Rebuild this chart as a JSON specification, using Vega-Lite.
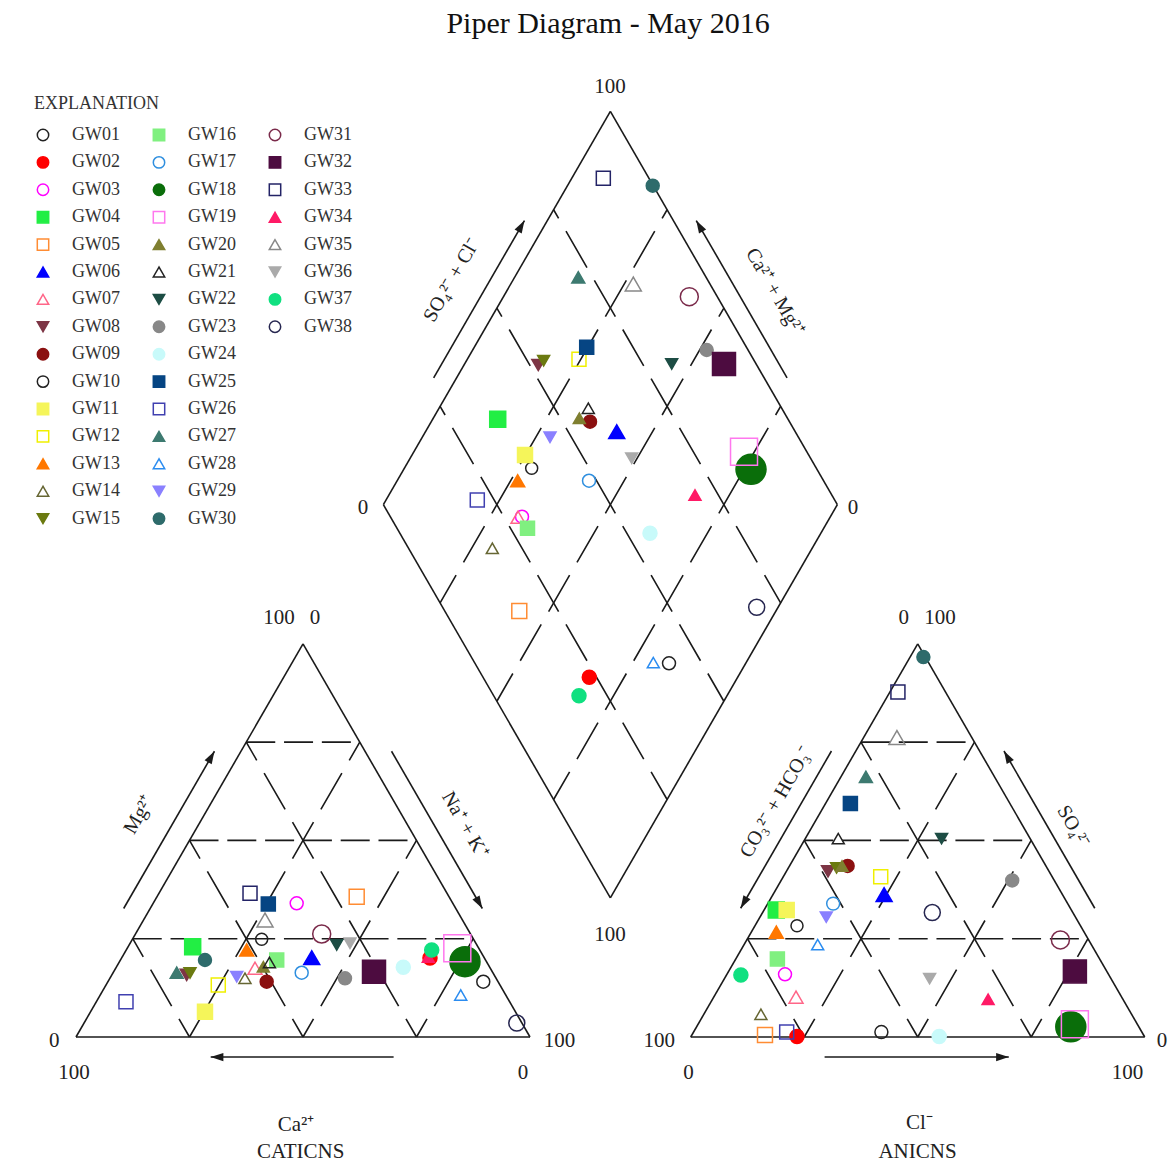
{
  "$schema": "https://vega.github.io/schema/vega-lite/v6.json",
  "width": 1170,
  "height": 1123,
  "autosize": {"type": "none"},
  "padding": {"top": 45, "left": 0, "right": 0, "bottom": 0},
  "background": "white",
  "title": {"text": "Piper Diagram - May 2016", "font": "Liberation Serif", "fontSize": 30, "fontWeight": "normal", "color": "#111111", "anchor": "middle", "dx": 23, "offset": -18, "baseline": "alphabetic"},
  "config": {
    "view": {"stroke": null},
    "legend": {"titleFont": "Liberation Serif", "titleFontSize": 18, "titleFontWeight": "normal", "titleColor": "#333333", "labelFont": "Liberation Serif", "labelFontSize": 18, "labelColor": "#333333", "padding": 0, "offset": 0}
  },
  "datasets": {
    "solid": [
      {"x": 0, "y": 0, "x2": 100, "y2": 0},
      {"x": 100, "y": 0, "x2": 50, "y2": 86.603},
      {"x": 50, "y": 86.603, "x2": 0, "y2": 0},
      {"x": 135.4, "y": 0, "x2": 235.4, "y2": 0},
      {"x": 235.4, "y": 0, "x2": 185.4, "y2": 86.603},
      {"x": 185.4, "y": 86.603, "x2": 135.4, "y2": 0},
      {"x": 117.7, "y": 30.657, "x2": 167.7, "y2": 117.26},
      {"x": 167.7, "y": 117.26, "x2": 117.7, "y2": 203.863},
      {"x": 117.7, "y": 203.863, "x2": 67.7, "y2": 117.26},
      {"x": 67.7, "y": 117.26, "x2": 117.7, "y2": 30.657},
      {"x": 10.5, "y": 28.3, "x2": 30.5, "y2": 62.94},
      {"x": 69.5, "y": 62.94, "x2": 89.5, "y2": 28.3},
      {"x": 69.96, "y": -4.41, "x2": 29.67, "y2": -4.41},
      {"x": 166.4, "y": 63.0, "x2": 146.4, "y2": 28.36},
      {"x": 224.4, "y": 28.36, "x2": 204.4, "y2": 63.0},
      {"x": 164.89, "y": -4.41, "x2": 205.46, "y2": -4.41},
      {"x": 78.78, "y": 145.2, "x2": 98.78, "y2": 179.84},
      {"x": 156.62, "y": 145.2, "x2": 136.62, "y2": 179.84}
    ],
    "hdash": [
      {"x": 12.5, "y": 21.651, "x2": 87.5, "y2": 21.651},
      {"x": 25, "y": 43.301, "x2": 75, "y2": 43.301},
      {"x": 37.5, "y": 64.952, "x2": 62.5, "y2": 64.952},
      {"x": 147.9, "y": 21.651, "x2": 222.9, "y2": 21.651},
      {"x": 160.4, "y": 43.301, "x2": 210.4, "y2": 43.301},
      {"x": 172.9, "y": 64.952, "x2": 197.9, "y2": 64.952}
    ],
    "tdash": [
      {"x": 12.5, "y": 21.651, "x2": 25, "y2": 0},
      {"x": 25, "y": 43.301, "x2": 50, "y2": 0},
      {"x": 37.5, "y": 64.952, "x2": 75, "y2": 0},
      {"x": 87.5, "y": 21.651, "x2": 75, "y2": 0},
      {"x": 75, "y": 43.301, "x2": 50, "y2": 0},
      {"x": 62.5, "y": 64.952, "x2": 25, "y2": 0},
      {"x": 147.9, "y": 21.651, "x2": 160.4, "y2": 0},
      {"x": 160.4, "y": 43.301, "x2": 185.4, "y2": 0},
      {"x": 172.9, "y": 64.952, "x2": 210.4, "y2": 0},
      {"x": 222.9, "y": 21.651, "x2": 210.4, "y2": 0},
      {"x": 210.4, "y": 43.301, "x2": 185.4, "y2": 0},
      {"x": 197.9, "y": 64.952, "x2": 160.4, "y2": 0}
    ],
    "ddash": [
      {"x": 155.2, "y": 138.911, "x2": 105.2, "y2": 52.308},
      {"x": 142.7, "y": 160.562, "x2": 92.7, "y2": 73.958},
      {"x": 130.2, "y": 182.212, "x2": 80.2, "y2": 95.609},
      {"x": 80.2, "y": 138.911, "x2": 130.2, "y2": 52.308},
      {"x": 92.7, "y": 160.562, "x2": 142.7, "y2": 73.958},
      {"x": 105.2, "y": 182.212, "x2": 155.2, "y2": 95.609}
    ],
    "heads": [
      {"dir": "ur", "x": 30.5, "y": 62.94},
      {"dir": "ur", "x": 98.78, "y": 179.84},
      {"dir": "dr", "x": 89.5, "y": 28.3},
      {"dir": "l", "x": 29.67, "y": -4.41},
      {"dir": "dl", "x": 146.4, "y": 28.36},
      {"dir": "ul", "x": 204.4, "y": 63.0},
      {"dir": "ul", "x": 136.62, "y": 179.84},
      {"dir": "r", "x": 205.46, "y": -4.41}
    ],
    "labH": [
      {"t": "100", "x": 117.62, "y": 209.36},
      {"t": "0", "x": 63.22, "y": 116.52},
      {"t": "0", "x": 171.15, "y": 116.52},
      {"t": "100", "x": 117.62, "y": 22.47},
      {"t": "100", "x": 44.71, "y": 92.29},
      {"t": "0", "x": 52.64, "y": 92.29},
      {"t": "0", "x": -4.78, "y": -0.88},
      {"t": "100", "x": -0.46, "y": -7.93},
      {"t": "100", "x": 106.52, "y": -0.88},
      {"t": "0", "x": 98.44, "y": -7.93},
      {"t": "0", "x": 182.33, "y": 92.31},
      {"t": "100", "x": 190.29, "y": 92.31},
      {"t": "100", "x": 128.48, "y": -0.88},
      {"t": "0", "x": 134.91, "y": -7.93},
      {"t": "0", "x": 239.21, "y": -0.88},
      {"t": "100", "x": 231.63, "y": -7.93},
      {"t": "Ca²⁺", "x": 48.46, "y": -19.38},
      {"t": "CATICNS", "x": 49.49, "y": -25.29},
      {"t": "Cl⁻", "x": 185.75, "y": -18.94},
      {"t": "ANICNS", "x": 185.35, "y": -25.29}
    ],
    "labU": [
      {"t": "Mg²⁺", "x": 13.9, "y": 49.0},
      {"t": "SO₄²⁻ + Cl⁻", "x": 82.75, "y": 166.74},
      {"t": "CO₃²⁻ + HCO₃⁻", "x": 154.25, "y": 51.81}
    ],
    "labD": [
      {"t": "Na⁺ + K⁺", "x": 85.68, "y": 46.7},
      {"t": "Ca²⁺ + Mg²⁺", "x": 153.96, "y": 164.1},
      {"t": "SO₄²⁻", "x": 219.69, "y": 46.3}
    ],
    "samples": [
      {"s": "GW01", "tds": 420, "cx": 89.71, "cy": 12.18, "ax": 177.4, "ay": 1.08, "dx": 130.62, "dy": 82.31},
      {"s": "GW02", "tds": 490, "cx": 77.97, "cy": 17.4, "ax": 158.81, "ay": 0.13, "dx": 113.06, "dy": 79.23},
      {"s": "GW03", "tds": 420, "cx": 48.61, "cy": 29.45, "ax": 156.17, "ay": 13.81, "dx": 98.24, "dy": 114.6},
      {"s": "GW04", "tds": 640, "cx": 25.7, "cy": 19.89, "ax": 154.25, "ay": 27.97, "dx": 92.89, "dy": 136.06},
      {"s": "GW05", "tds": 560, "cx": 61.83, "cy": 30.9, "ax": 151.76, "ay": 0.44, "dx": 97.64, "dy": 93.83},
      {"s": "GW06", "tds": 640, "cx": 51.92, "cy": 17.47, "ax": 178.0, "ay": 31.37, "dx": 119.1, "dy": 133.33},
      {"s": "GW07", "tds": 490, "cx": 39.43, "cy": 15.13, "ax": 158.59, "ay": 8.79, "dx": 97.36, "dy": 114.47},
      {"s": "GW08", "tds": 420, "cx": 24.38, "cy": 13.66, "ax": 165.64, "ay": 36.48, "dx": 101.83, "dy": 148.02},
      {"s": "GW09", "tds": 420, "cx": 42.0, "cy": 12.18, "ax": 169.96, "ay": 37.67, "dx": 113.22, "dy": 135.53},
      {"s": "GW10", "tds": 360, "cx": 40.9, "cy": 21.52, "ax": 158.81, "ay": 24.52, "dx": 100.37, "dy": 125.26},
      {"s": "GW11", "tds": 560, "cx": 28.41, "cy": 5.57, "ax": 156.54, "ay": 27.97, "dx": 98.9, "dy": 128.19},
      {"s": "GW12", "tds": 490, "cx": 31.34, "cy": 11.45, "ax": 177.25, "ay": 35.29, "dx": 110.79, "dy": 149.27},
      {"s": "GW13", "tds": 490, "cx": 37.6, "cy": 19.16, "ax": 154.25, "ay": 23.11, "dx": 97.29, "dy": 122.53},
      {"s": "GW14", "tds": 360, "cx": 37.22, "cy": 12.93, "ax": 150.86, "ay": 5.0, "dx": 91.7, "dy": 107.64},
      {"s": "GW15", "tds": 360, "cx": 25.11, "cy": 14.1, "ax": 167.53, "ay": 37.25, "dx": 103.0, "dy": 148.96},
      {"s": "GW16", "tds": 490, "cx": 44.21, "cy": 16.96, "ax": 154.49, "ay": 17.2, "dx": 99.45, "dy": 112.05},
      {"s": "GW17", "tds": 420, "cx": 49.71, "cy": 14.16, "ax": 166.78, "ay": 29.38, "dx": 113.0, "dy": 122.53},
      {"s": "GW18", "tds": 2250, "cx": 85.68, "cy": 16.59, "ax": 219.12, "ay": 2.25, "dx": 148.68, "dy": 125.04},
      {"s": "GW19", "tds": 1820, "cx": 83.99, "cy": 19.54, "ax": 220.02, "ay": 2.8, "dx": 147.14, "dy": 128.92},
      {"s": "GW20", "tds": 360, "cx": 41.26, "cy": 15.48, "ax": 168.72, "ay": 37.67, "dx": 110.86, "dy": 136.28},
      {"s": "GW21", "tds": 360, "cx": 42.6, "cy": 16.4, "ax": 167.9, "ay": 43.7, "dx": 112.84, "dy": 138.48},
      {"s": "GW22", "tds": 360, "cx": 57.42, "cy": 20.26, "ax": 190.66, "ay": 43.7, "dx": 131.21, "dy": 148.24},
      {"s": "GW23", "tds": 420, "cx": 59.25, "cy": 12.93, "ax": 206.21, "ay": 34.49, "dx": 138.92, "dy": 151.32},
      {"s": "GW24", "tds": 490, "cx": 72.09, "cy": 15.35, "ax": 190.13, "ay": 0.13, "dx": 126.43, "dy": 110.95},
      {"s": "GW25", "tds": 490, "cx": 42.36, "cy": 29.3, "ax": 170.57, "ay": 51.41, "dx": 112.49, "dy": 151.92},
      {"s": "GW26", "tds": 490, "cx": 11.01, "cy": 7.78, "ax": 156.54, "ay": 1.08, "dx": 88.39, "dy": 118.28},
      {"s": "GW27", "tds": 420, "cx": 22.18, "cy": 14.16, "ax": 173.99, "ay": 57.31, "dx": 110.64, "dy": 167.33},
      {"s": "GW28", "tds": 360, "cx": 84.74, "cy": 9.25, "ax": 163.37, "ay": 20.35, "dx": 127.16, "dy": 82.45},
      {"s": "GW29", "tds": 360, "cx": 35.4, "cy": 13.28, "ax": 165.26, "ay": 26.41, "dx": 104.41, "dy": 132.09},
      {"s": "GW30", "tds": 420, "cx": 28.41, "cy": 16.96, "ax": 186.65, "ay": 83.68, "dx": 127.03, "dy": 187.51},
      {"s": "GW31", "tds": 810, "cx": 54.12, "cy": 22.69, "ax": 216.83, "ay": 21.37, "dx": 135.09, "dy": 163.06},
      {"s": "GW32", "tds": 1320, "cx": 65.64, "cy": 14.38, "ax": 220.02, "ay": 14.45, "dx": 142.73, "dy": 148.24},
      {"s": "GW33", "tds": 490, "cx": 38.33, "cy": 31.65, "ax": 181.04, "ay": 75.97, "dx": 116.15, "dy": 189.14},
      {"s": "GW34", "tds": 360, "cx": 77.6, "cy": 17.62, "ax": 200.9, "ay": 8.3, "dx": 136.34, "dy": 119.38},
      {"s": "GW35", "tds": 640, "cx": 41.63, "cy": 25.77, "ax": 180.82, "ay": 65.97, "dx": 122.75, "dy": 165.86},
      {"s": "GW36", "tds": 360, "cx": 60.35, "cy": 20.64, "ax": 188.02, "ay": 12.86, "dx": 122.4, "dy": 127.47},
      {"s": "GW37", "tds": 490, "cx": 78.35, "cy": 19.16, "ax": 146.45, "ay": 13.66, "dx": 110.79, "dy": 75.18},
      {"s": "GW38", "tds": 640, "cx": 97.09, "cy": 3.08, "ax": 188.61, "ay": 27.42, "dx": 149.93, "dy": 94.65}
    ]
  },
  "layer": [
    {
      "data": {"name": "solid"},
      "mark": {"type": "rule", "color": "#1a1a1a", "strokeWidth": 1.6},
      "encoding": {
        "x": {"field": "x", "type": "quantitative", "scale": {"domain": [-16.74, 240.969], "nice": false, "zero": false}, "axis": null},
        "y": {"field": "y", "type": "quantitative", "scale": {"domain": [-28.855, 218.502], "nice": false, "zero": false}, "axis": null},
        "x2": {"field": "x2"},
        "y2": {"field": "y2"}
      }
    },
    {
      "data": {"name": "hdash"},
      "mark": {"type": "rule", "color": "#1a1a1a", "strokeWidth": 1.6, "strokeDash": [29, 8.8]},
      "encoding": {
        "x": {"field": "x", "type": "quantitative", "scale": {"domain": [-16.74, 240.969], "nice": false, "zero": false}, "axis": null},
        "y": {"field": "y", "type": "quantitative", "scale": {"domain": [-28.855, 218.502], "nice": false, "zero": false}, "axis": null},
        "x2": {"field": "x2"},
        "y2": {"field": "y2"}
      }
    },
    {
      "data": {"name": "tdash"},
      "mark": {"type": "rule", "color": "#1a1a1a", "strokeWidth": 1.6, "strokeDash": [42, 14.75], "strokeDashOffset": 21},
      "encoding": {
        "x": {"field": "x", "type": "quantitative", "scale": {"domain": [-16.74, 240.969], "nice": false, "zero": false}, "axis": null},
        "y": {"field": "y", "type": "quantitative", "scale": {"domain": [-28.855, 218.502], "nice": false, "zero": false}, "axis": null},
        "x2": {"field": "x2"},
        "y2": {"field": "y2"}
      }
    },
    {
      "data": {"name": "ddash"},
      "mark": {"type": "rule", "color": "#1a1a1a", "strokeWidth": 1.6, "strokeDash": [42, 14.75], "strokeDashOffset": 32},
      "encoding": {
        "x": {"field": "x", "type": "quantitative", "scale": {"domain": [-16.74, 240.969], "nice": false, "zero": false}, "axis": null},
        "y": {"field": "y", "type": "quantitative", "scale": {"domain": [-28.855, 218.502], "nice": false, "zero": false}, "axis": null},
        "x2": {"field": "x2"},
        "y2": {"field": "y2"}
      }
    },
    {
      "data": {"name": "heads"},
      "transform": [{"filter": "datum.dir === 'ur'"}],
      "mark": {"type": "point", "shape": "M0,0L0.65,2L-0.65,2Z", "angle": 30, "filled": true, "color": "#1a1a1a", "size": 160, "opacity": 1, "strokeWidth": 0},
      "encoding": {
        "x": {"field": "x", "type": "quantitative", "scale": {"domain": [-16.74, 240.969], "nice": false, "zero": false}, "axis": null},
        "y": {"field": "y", "type": "quantitative", "scale": {"domain": [-28.855, 218.502], "nice": false, "zero": false}, "axis": null}
      }
    },
    {
      "data": {"name": "heads"},
      "transform": [{"filter": "datum.dir === 'dr'"}],
      "mark": {"type": "point", "shape": "M0,0L0.65,2L-0.65,2Z", "angle": 150, "filled": true, "color": "#1a1a1a", "size": 160, "opacity": 1, "strokeWidth": 0},
      "encoding": {
        "x": {"field": "x", "type": "quantitative", "scale": {"domain": [-16.74, 240.969], "nice": false, "zero": false}, "axis": null},
        "y": {"field": "y", "type": "quantitative", "scale": {"domain": [-28.855, 218.502], "nice": false, "zero": false}, "axis": null}
      }
    },
    {
      "data": {"name": "heads"},
      "transform": [{"filter": "datum.dir === 'l'"}],
      "mark": {"type": "point", "shape": "M0,0L0.65,2L-0.65,2Z", "angle": 270, "filled": true, "color": "#1a1a1a", "size": 160, "opacity": 1, "strokeWidth": 0},
      "encoding": {
        "x": {"field": "x", "type": "quantitative", "scale": {"domain": [-16.74, 240.969], "nice": false, "zero": false}, "axis": null},
        "y": {"field": "y", "type": "quantitative", "scale": {"domain": [-28.855, 218.502], "nice": false, "zero": false}, "axis": null}
      }
    },
    {
      "data": {"name": "heads"},
      "transform": [{"filter": "datum.dir === 'dl'"}],
      "mark": {"type": "point", "shape": "M0,0L0.65,2L-0.65,2Z", "angle": 210, "filled": true, "color": "#1a1a1a", "size": 160, "opacity": 1, "strokeWidth": 0},
      "encoding": {
        "x": {"field": "x", "type": "quantitative", "scale": {"domain": [-16.74, 240.969], "nice": false, "zero": false}, "axis": null},
        "y": {"field": "y", "type": "quantitative", "scale": {"domain": [-28.855, 218.502], "nice": false, "zero": false}, "axis": null}
      }
    },
    {
      "data": {"name": "heads"},
      "transform": [{"filter": "datum.dir === 'ul'"}],
      "mark": {"type": "point", "shape": "M0,0L0.65,2L-0.65,2Z", "angle": 330, "filled": true, "color": "#1a1a1a", "size": 160, "opacity": 1, "strokeWidth": 0},
      "encoding": {
        "x": {"field": "x", "type": "quantitative", "scale": {"domain": [-16.74, 240.969], "nice": false, "zero": false}, "axis": null},
        "y": {"field": "y", "type": "quantitative", "scale": {"domain": [-28.855, 218.502], "nice": false, "zero": false}, "axis": null}
      }
    },
    {
      "data": {"name": "heads"},
      "transform": [{"filter": "datum.dir === 'r'"}],
      "mark": {"type": "point", "shape": "M0,0L0.65,2L-0.65,2Z", "angle": 90, "filled": true, "color": "#1a1a1a", "size": 160, "opacity": 1, "strokeWidth": 0},
      "encoding": {
        "x": {"field": "x", "type": "quantitative", "scale": {"domain": [-16.74, 240.969], "nice": false, "zero": false}, "axis": null},
        "y": {"field": "y", "type": "quantitative", "scale": {"domain": [-28.855, 218.502], "nice": false, "zero": false}, "axis": null}
      }
    },
    {
      "data": {"name": "labH"},
      "mark": {"type": "text", "font": "Liberation Serif", "fontSize": 21, "color": "#222222", "align": "center", "baseline": "middle"},
      "encoding": {
        "x": {"field": "x", "type": "quantitative", "scale": {"domain": [-16.74, 240.969], "nice": false, "zero": false}, "axis": null},
        "y": {"field": "y", "type": "quantitative", "scale": {"domain": [-28.855, 218.502], "nice": false, "zero": false}, "axis": null},
        "text": {"field": "t", "type": "nominal"}
      }
    },
    {
      "data": {"name": "labU"},
      "mark": {"type": "text", "font": "Liberation Serif", "fontSize": 20, "color": "#222222", "align": "center", "baseline": "middle", "angle": -60},
      "encoding": {
        "x": {"field": "x", "type": "quantitative", "scale": {"domain": [-16.74, 240.969], "nice": false, "zero": false}, "axis": null},
        "y": {"field": "y", "type": "quantitative", "scale": {"domain": [-28.855, 218.502], "nice": false, "zero": false}, "axis": null},
        "text": {"field": "t", "type": "nominal"}
      }
    },
    {
      "data": {"name": "labD"},
      "mark": {"type": "text", "font": "Liberation Serif", "fontSize": 20, "color": "#222222", "align": "center", "baseline": "middle", "angle": 60},
      "encoding": {
        "x": {"field": "x", "type": "quantitative", "scale": {"domain": [-16.74, 240.969], "nice": false, "zero": false}, "axis": null},
        "y": {"field": "y", "type": "quantitative", "scale": {"domain": [-28.855, 218.502], "nice": false, "zero": false}, "axis": null},
        "text": {"field": "t", "type": "nominal"}
      }
    },
    {
      "data": {"name": "samples"},
      "encoding": {
        "fill": {
          "field": "s", "type": "nominal", "title": "EXPLANATION",
          "scale": {
            "domain": ["GW01","GW02","GW03","GW04","GW05","GW06","GW07","GW08","GW09","GW10","GW11","GW12","GW13","GW14","GW15","GW16","GW17","GW18","GW19","GW20","GW21","GW22","GW23","GW24","GW25","GW26","GW27","GW28","GW29","GW30","GW31","GW32","GW33","GW34","GW35","GW36","GW37","GW38","b1","b2","b3","b4","b5","b6","b7"],
            "range": ["transparent","#ff0000","transparent","#22ee44","transparent","#0000ff","transparent","#7d3545","#8b1010","transparent","#f5f55a","transparent","#ff7700","transparent","#6b7a10","#80f080","transparent","#0a6e0a","transparent","#7f7f30","transparent","#1d4d44","#888888","#c8fafa","#064583","transparent","#3d7a70","transparent","#8a80ff","#2e6b6b","transparent","#4d0c40","transparent","#ff1a66","transparent","#aaaaaa","#10e080","transparent","transparent","transparent","transparent","transparent","transparent","transparent","transparent"]
          },
          "legend": {"orient": "none", "legendX": 34, "legendY": 50, "columns": 3, "columnPadding": 30, "rowPadding": 9.4, "labelOffset": 20, "symbolSize": 130, "symbolStrokeWidth": 1.5, "titlePadding": 13, "symbolLimit": 60, "gridAlign": "all", "labelExpr": "indexof(datum.label, 'b') === 0 ? '' : datum.label"}
        },
        "stroke": {
          "field": "s", "type": "nominal", "title": "EXPLANATION",
          "scale": {
            "domain": ["GW01","GW02","GW03","GW04","GW05","GW06","GW07","GW08","GW09","GW10","GW11","GW12","GW13","GW14","GW15","GW16","GW17","GW18","GW19","GW20","GW21","GW22","GW23","GW24","GW25","GW26","GW27","GW28","GW29","GW30","GW31","GW32","GW33","GW34","GW35","GW36","GW37","GW38","b1","b2","b3","b4","b5","b6","b7"],
            "range": ["#222222","#ff0000","#ff00ff","#22ee44","#ff8c33","#0000ff","#ff6688","#7d3545","#8b1010","#222222","#f5f55a","#f0f000","#ff7700","#666633","#6b7a10","#80f080","#2f8fdf","#0a6e0a","#ff77ee","#7f7f30","#222222","#1d4d44","#888888","#c8fafa","#064583","#4040b0","#3d7a70","#2b8cf0","#8a80ff","#2e6b6b","#7a2a4a","#4d0c40","#232366","#ff1a66","#888888","#aaaaaa","#10e080","#262650","transparent","transparent","transparent","transparent","transparent","transparent","transparent"]
          },
          "legend": {"orient": "none", "legendX": 34, "legendY": 50, "columns": 3, "columnPadding": 30, "rowPadding": 9.4, "labelOffset": 20, "symbolSize": 130, "symbolStrokeWidth": 1.5, "titlePadding": 13, "symbolLimit": 60, "gridAlign": "all", "labelExpr": "indexof(datum.label, 'b') === 0 ? '' : datum.label"}
        },
        "shape": {
          "field": "s", "type": "nominal", "title": "EXPLANATION",
          "scale": {
            "domain": ["GW01","GW02","GW03","GW04","GW05","GW06","GW07","GW08","GW09","GW10","GW11","GW12","GW13","GW14","GW15","GW16","GW17","GW18","GW19","GW20","GW21","GW22","GW23","GW24","GW25","GW26","GW27","GW28","GW29","GW30","GW31","GW32","GW33","GW34","GW35","GW36","GW37","GW38","b1","b2","b3","b4","b5","b6","b7"],
            "range": ["circle","circle","circle","square","square","triangle-up","triangle-up","triangle-down","circle","circle","square","square","triangle-up","triangle-up","triangle-down","square","circle","circle","square","triangle-up","triangle-up","triangle-down","circle","circle","square","square","triangle-up","triangle-up","triangle-down","circle","circle","square","square","triangle-up","triangle-up","triangle-down","circle","circle","circle","circle","circle","circle","circle","circle","circle"]
          },
          "legend": {"orient": "none", "legendX": 34, "legendY": 50, "columns": 3, "columnPadding": 30, "rowPadding": 9.4, "labelOffset": 20, "symbolSize": 130, "symbolStrokeWidth": 1.5, "titlePadding": 13, "symbolLimit": 60, "gridAlign": "all", "labelExpr": "indexof(datum.label, 'b') === 0 ? '' : datum.label"}
        },
        "size": {"field": "tds", "type": "quantitative", "scale": {"domain": [0, 2500], "range": [0, 1000], "zero": true}, "legend": null}
      },
      "layer": [
        {
          "mark": {"type": "point", "opacity": 1, "strokeWidth": 1.5},
          "encoding": {
            "x": {"field": "cx", "type": "quantitative", "scale": {"domain": [-16.74, 240.969], "nice": false, "zero": false}, "axis": null},
            "y": {"field": "cy", "type": "quantitative", "scale": {"domain": [-28.855, 218.502], "nice": false, "zero": false}, "axis": null}
          }
        },
        {
          "mark": {"type": "point", "opacity": 1, "strokeWidth": 1.5},
          "encoding": {
            "x": {"field": "ax", "type": "quantitative", "scale": {"domain": [-16.74, 240.969], "nice": false, "zero": false}, "axis": null},
            "y": {"field": "ay", "type": "quantitative", "scale": {"domain": [-28.855, 218.502], "nice": false, "zero": false}, "axis": null}
          }
        },
        {
          "mark": {"type": "point", "opacity": 1, "strokeWidth": 1.5},
          "encoding": {
            "x": {"field": "dx", "type": "quantitative", "scale": {"domain": [-16.74, 240.969], "nice": false, "zero": false}, "axis": null},
            "y": {"field": "dy", "type": "quantitative", "scale": {"domain": [-28.855, 218.502], "nice": false, "zero": false}, "axis": null}
          }
        }
      ]
    }
  ]
}
